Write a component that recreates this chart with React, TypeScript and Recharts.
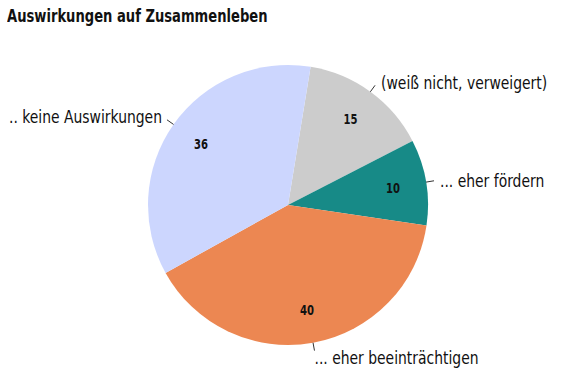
import { PieChart, Pie, Cell } from 'recharts'

const categories = [
  '(weiß nicht, verweigert)',
  '... eher fördern',
  '... eher beeinträchtigen',
  '.. keine Auswirkungen',
]
const values = [15, 10, 40, 36]
const colors = ['#cccccc', '#178a87', '#ec8752', '#ccd6fe']

const data = categories.map((name, i) => ({ name, value: values[i] }))

const FONT = '"DejaVu Sans Condensed", "DejaVu Sans", Arial, sans-serif'
const RAD = Math.PI / 180

// eslint-disable-next-line @typescript-eslint/no-explicit-any
function renderLabel(props: any) {
  const { cx, cy, midAngle, outerRadius, name, value } = props
  const cos = Math.cos(-midAngle * RAD)
  const sin = Math.sin(-midAngle * RAD)
  const inR = outerRadius * 0.76
  const x0 = cx + outerRadius * cos
  const y0 = cy + outerRadius * sin
  const x1 = cx + (outerRadius + 8) * cos
  const y1 = cy + (outerRadius + 8) * sin
  const bottom = sin > 0.9
  const anchor = bottom ? 'start' : cos >= 0 ? 'start' : 'end'
  const tx = bottom ? x1 : x1 + (cos >= 0 ? 6 : -5)
  const ty = bottom ? y1 + 7 : y1 + (sin < -0.5 ? -3 : 0)
  return (
    <g>
      <g transform={`translate(${cx + inR * cos},${cy + inR * sin}) scale(0.8,1)`}>
        <text
          x={0}
          y={0}
          textAnchor="middle"
          dominantBaseline="central"
          fontFamily={FONT}
          fontWeight="bold"
          fontSize={14}
          fill="#111"
        >
          {value}
        </text>
      </g>
      <line x1={x0} y1={y0} x2={x1} y2={y1} stroke="#333" strokeWidth={1} />
      <g transform={`translate(${tx},${ty}) scale(0.86,1)`}>
        <text
          x={0}
          y={0}
          textAnchor={anchor}
          dominantBaseline="central"
          fontFamily={FONT}
          fontSize={18}
          fill="#111"
        >
          {name}
        </text>
      </g>
    </g>
  )
}

export default function App() {
  return (
    <div style={{ position: 'absolute', left: 0, top: 0, width: 576, height: 384, background: '#fff' }}>
      <div
        style={{
          position: 'absolute',
          left: 7,
          top: 5,
          fontFamily: FONT,
          fontWeight: 'bold',
          fontSize: 18,
          color: '#111',
          whiteSpace: 'nowrap',
          transform: 'scaleX(0.81)',
          transformOrigin: 'left top',
        }}
      >
        Auswirkungen auf Zusammenleben
      </div>
      <PieChart width={576} height={384} margin={{ top: 0, right: 0, bottom: 0, left: 0 }}>
        <Pie
          data={data}
          dataKey="value"
          nameKey="name"
          cx={288}
          cy={205}
          outerRadius={140}
          startAngle={80.7}
          endAngle={-279.3}
          stroke="none"
          label={renderLabel}
          labelLine={false}
          isAnimationActive={false}
        >
          {data.map((d, i) => (
            <Cell key={d.name} fill={colors[i]} />
          ))}
        </Pie>
      </PieChart>
    </div>
  )
}
